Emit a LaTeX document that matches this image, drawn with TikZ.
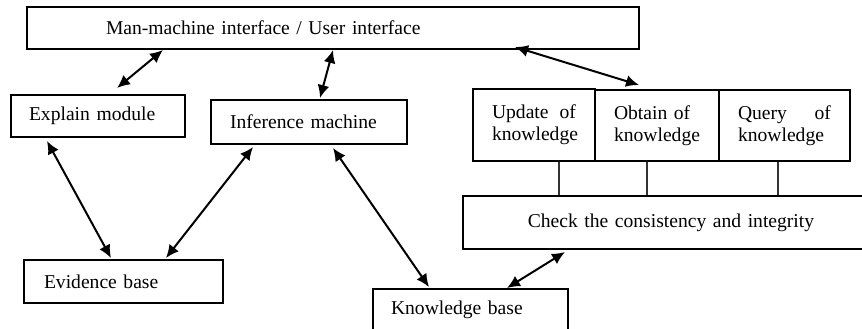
\documentclass[tikz,border=0pt]{standalone}
\usepackage{fontspec}
\setmainfont{Liberation Serif}
\usetikzlibrary{arrows.meta,calc}
\begin{document}
\begin{tikzpicture}[x=0.5pt,y=-0.5pt]
    \tikzstyle{blk}=[draw,rectangle,line width=1pt,anchor=north west,align=left,inner ysep=0pt,font=\fontsize{9.8pt}{11pt}\selectfont]
    \tikzstyle{link}=[line width=1pt,{Latex[length=6.5pt,width=6pt]}-{Latex[length=6.5pt,width=6pt]}]
    \tikzstyle{tie}=[line width=0.6pt,black!80]
    \useasboundingbox (0,0) rectangle (862,328);
    % boxes
    \node[blk,minimum width=306pt,minimum height=21pt,inner xsep=39.5pt,text width=227pt] (ui) at (26,6) {Man-machine interface / User interface};
    \node[blk,minimum width=87pt,minimum height=21pt,inner xsep=9pt,text width=69pt] (explain) at (10,94) {Explain module};
    \node[blk,minimum width=98pt,minimum height=22pt,inner xsep=9.5pt,text width=79pt] (infer) at (210,99) {Inference machine};
    \node[blk,minimum width=99.5pt,minimum height=21.5pt,inner xsep=10pt,text width=79.5pt] (evid) at (23,259) {Evidence base};
    \node[blk,minimum width=97.5pt,minimum height=21pt,inner xsep=9pt,text width=79.5pt] (kbase) at (372,288) {Knowledge base};
    \node[blk,align=center,minimum width=208pt,minimum height=26.5pt,inner xsep=9pt,text width=190pt] (check) at (462,195) {Check the consistency and integrity};
    \node[blk,minimum width=61pt,minimum height=36pt,inner xsep=9.5pt,text width=42pt] (update) at (472,88) {Update\hfill of\\knowledge};
    \node[blk,minimum width=62pt,minimum height=35.5pt,inner xsep=9.5pt,text width=43pt] (obtain) at (594,89) {Obtain of\\knowledge};
    \node[blk,minimum width=65.5pt,minimum height=35.5pt,inner xsep=9.5pt,text width=46.5pt] (query) at (718,89) {Query\hfill of\\knowledge};
    % arrows
    \draw[link] ($(ui.south west)+(137,0)$) -- ($(explain.north west)+(107,-6)$);
    \draw[link] ($(ui.south west)+(307,0)$) -- ($(infer.north west)+(110,-1)$);
    \draw[link] ($(ui.south west)+(489,-3)$) -- ($(obtain.north west)+(45,-4)$);
    \draw[link] ($(explain.south west)+(37,3)$) -- ($(evid.north west)+(88,-1)$);
    \draw[link] ($(infer.south west)+(43,2)$) -- ($(evid.north west)+(143,-1)$);
    \draw[link] ($(infer.south west)+(123,3)$) -- ($(kbase.north west)+(57,-1)$);
    \draw[link] ($(check.south west)+(103,2)$) -- ($(kbase.north west)+(135,0)$);
    % ties to the check box
    \draw[tie] ($(update.south west)+(87,0)$) -- ($(check.north west)+(97,0)$);
    \draw[tie] ($(obtain.south west)+(53,0)$) -- ($(check.north west)+(185,0)$);
    \draw[tie] ($(query.south west)+(60,0)$) -- ($(check.north west)+(316,0)$);
\end{tikzpicture}
\end{document}
